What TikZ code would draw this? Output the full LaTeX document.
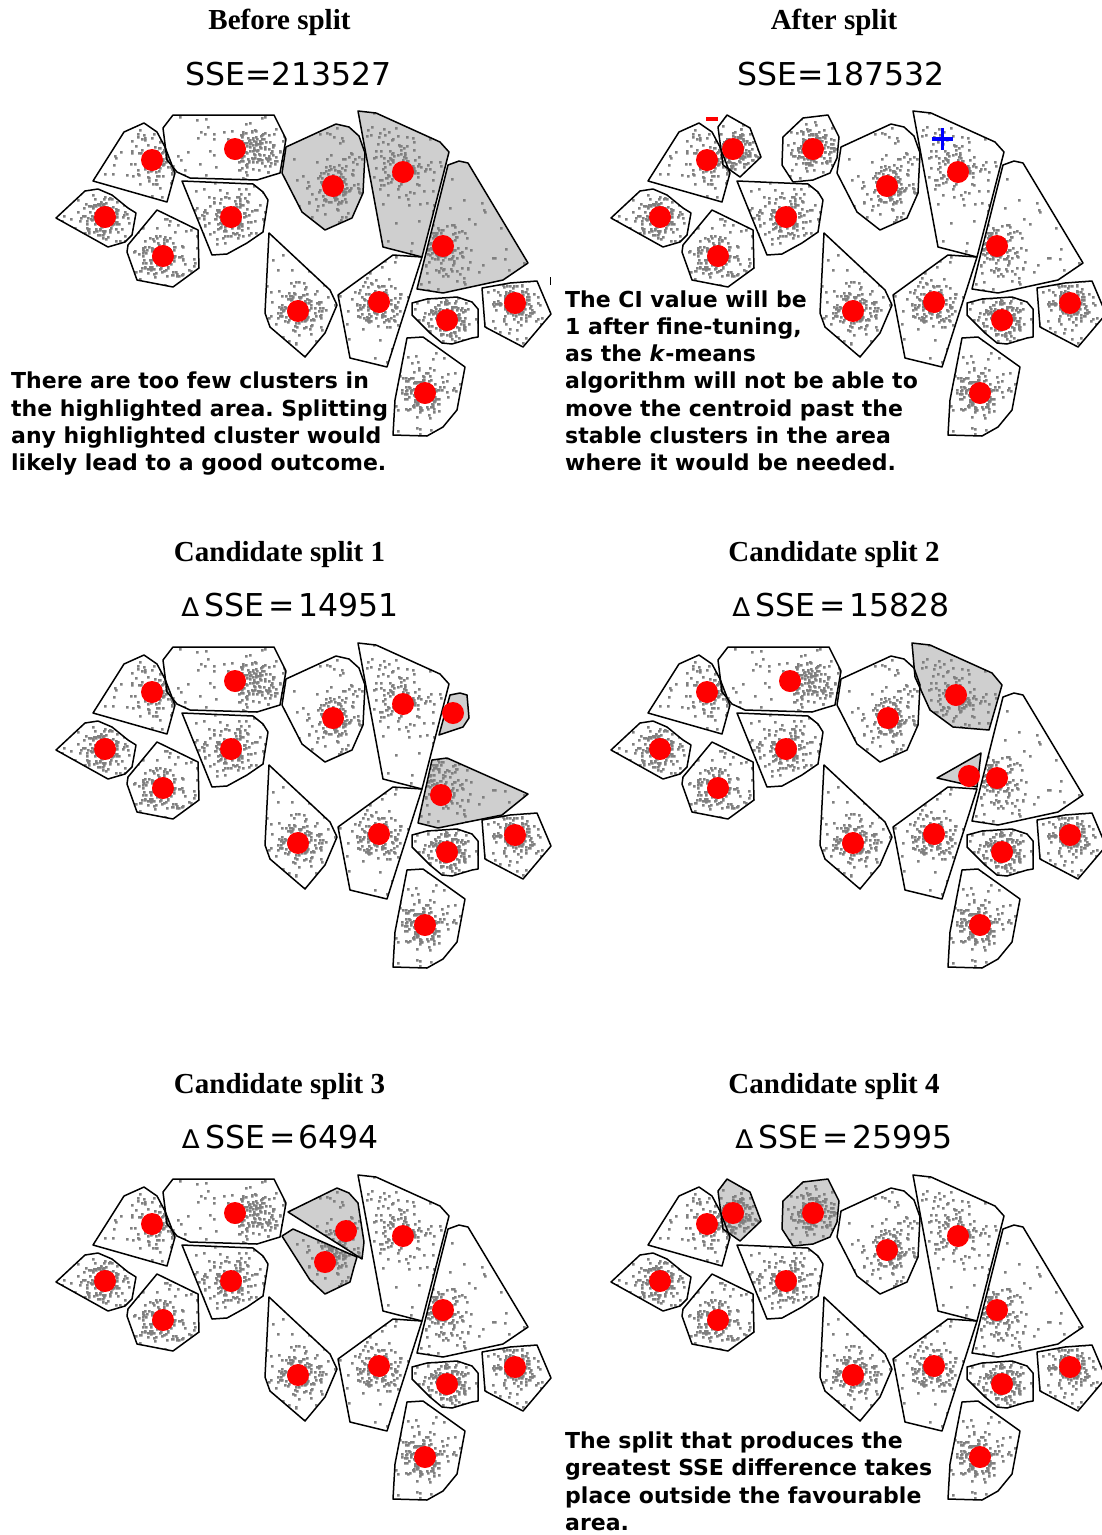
\documentclass[tikz,border=0pt]{standalone}
\usepackage{fontspec}
\setmainfont{Liberation Serif}
\newfontfamily\djv{DejaVu Sans}
\frenchspacing
\definecolor{hl}{RGB}{207,207,207}
\definecolor{ptc}{RGB}{128,128,128}
\definecolor{cred}{RGB}{255,0,0}
\definecolor{cblue}{RGB}{0,0,255}
\tikzset{
  hull/.style={draw=black, line width=1.5pt, line join=round},
  cen/.style={fill=cred},
  ttl/.style={font=\fontsize{29}{34}\selectfont\bfseries, anchor=base, inner sep=0pt},
  sse/.style={font=\djv\fontsize{31.5}{38}\selectfont, anchor=base, inner sep=0pt},
  note/.style={font=\djv\bfseries\fontsize{22}{27}\selectfont, anchor=base west, inner sep=0pt}
}
\newcommand\dsse[1]{{\fontsize{26}{30}\selectfont ∆}\hspace{6pt}SSE\hspace{4pt}=\hspace{3pt}#1}
% ---- polygons (panel-relative pixel coordinates) ----
\def\pA{(124,132)--(144,123)--(157,132)--(165,147)--(175,173)--(167,202)--(93,181)--cycle}
\def\pB{(173,115)--(274,115)--(286,139)--(280,173)--(270,176)--(257,180)--(190,178)--(177,172)--(167,160)--(163,128)--cycle}
\def\pC{(56,218)--(85,191)--(98,189)--(112,195)--(128,208)--(136,213)--(132,235)--(125,242)--(108,247)--cycle}
\def\pD{(157,210)--(198,230)--(199,268)--(173,287)--(137,280)--(127,252)--(128,245)--cycle}
\def\pE{(182,181)--(253,184)--(263,192)--(268,200)--(263,232)--(247,243)--(227,254)--(212,255)--cycle}
\def\pK{(286,147)--(336,124)--(349,127)--(359,136)--(365,153)--(363,193)--(352,218)--(325,230)--(302,212)--(282,173)--cycle}
\def\pL{(358,111)--(376,113)--(440,142)--(449,152)--(422,257)--(383,247)--cycle}
\def\pM{(448,165)--(459,161)--(468,163)--(528,263)--(503,280)--(443,293)--(417,289)--cycle}
\def\pF{(269,233)--(330,290)--(337,305)--(325,333)--(305,357)--(270,327)--(265,313)--cycle}
\def\pG{(393,255)--(422,257)--(387,367)--(350,358)--(338,295)--cycle}
\def\pH{(412,303)--(427,299)--(457,297)--(472,302)--(478,309)--(478,337)--(472,338)--(452,344)--(442,343)--(430,333)--(412,315)--cycle}
\def\pI{(482,288)--(510,283)--(537,281)--(551,314)--(523,347)--(485,327)--cycle}
\def\pJ{(407,338)--(423,337)--(465,367)--(457,410)--(443,427)--(427,436)--(393,435)--(395,400)--cycle}
\def\pN{(163,127)--(172,115)--(195,128)--(206,157)--(185,177)--(168,165)--cycle}
\def\pBp{(228,137)--(248,118)--(273,115)--(284,137)--(282,158)--(275,173)--(258,180)--(238,182)--(227,165)--cycle}
\def\pMa{(439,203)--(450,163)--(460,161)--(467,163)--(469,186)--(463,195)--cycle}
\def\pMb{(432,228)--(447,226)--(528,262)--(502,283)--(438,296)--(418,291)--cycle}
\def\pLa{(357,111)--(375,113)--(437,141)--(447,153)--(434,198)--(398,195)--(375,178)--(360,145)--cycle}
\def\pLb{(382,246)--(426,221)--(422,255)--cycle}
\def\pKa{(288,148)--(337,124)--(349,129)--(358,139)--(364,178)--(362,195)--cycle}
\def\pKb{(282,172)--(293,165)--(357,193)--(354,203)--(350,218)--(325,230)--(310,216)--cycle}
% ---- point clouds: small filled squares at whole-pixel positions ----
\newcommand\pts[9]{%
  \begin{scope}
    \clip #2;
    \pgfmathsetseed{#1}%
    \fill[ptc] foreach \k in {1,...,125}{({round(#3+#5*(rand+rand+rand))},{round(#4+#5*(rand+rand+rand))}) rectangle ++(2.5,2.5)};
    \fill[ptc] foreach \k in {1,...,45}{({round(#6+(#8-#6)*rnd)},{round(#7+(#9-#7)*rnd)}) rectangle ++(2.5,2.5)};
  \end{scope}}
\newcommand\ptsCommon{%
  \pts{101}{\pA}{158}{157}{12}{93}{123}{175}{202}%
  \pts{103}{\pC}{104}{216}{11}{56}{189}{136}{247}%
  \pts{104}{\pD}{162}{255}{12}{127}{210}{199}{287}%
  \pts{105}{\pE}{230}{216}{13}{182}{181}{268}{255}%
  \pts{109}{\pF}{297}{310}{12}{265}{233}{337}{357}%
  \pts{110}{\pG}{378}{301}{12}{338}{255}{422}{367}%
  \pts{111}{\pH}{446}{319}{10}{412}{297}{478}{344}%
  \pts{112}{\pI}{514}{302}{10}{482}{281}{551}{347}%
  \pts{113}{\pJ}{424}{392}{12}{393}{337}{465}{436}}
\newcommand\ptsK[1]{\pts{106}{#1}{332}{185}{13}{282}{124}{365}{230}}
\newcommand\ptsL[1]{\pts{107}{#1}{399}{164}{15}{358}{111}{449}{257}}
\newcommand\ptsM[1]{\pts{108}{#1}{439}{249}{14}{417}{161}{528}{293}}
\newcommand\ptsB{\pts{102}{\pB}{256}{147}{12}{163}{115}{286}{182}}
\newcommand\ptsNB{%
  \pts{114}{\pN}{179}{149}{10}{163}{115}{206}{177}%
  \pts{115}{\pBp}{257}{147}{10}{227}{115}{284}{182}}
\newcommand\hullCommon{%
  \draw[hull] \pA; \draw[hull] \pC; \draw[hull] \pD; \draw[hull] \pE;
  \draw[hull] \pF; \draw[hull] \pG; \draw[hull] \pH; \draw[hull] \pI; \draw[hull] \pJ;}
\newcommand\cenCommon{%
  \foreach \cx/\cy in {152/160,105/217,163/256,231/217,298/311,379/302,447/320,515/303,425/393}
    {\fill[cen] (\cx,\cy) circle[radius=11];}}
\begin{document}
\begin{tikzpicture}[x=1pt,y=-1pt]
\useasboundingbox (0,0) rectangle (1102,1535);
% ================= Panel 1: Before split =================
\begin{scope}
  \fill[hl] \pK; \fill[hl] \pL; \fill[hl] \pM;
  \ptsCommon \ptsB \ptsK{\pK} \ptsL{\pL} \ptsM{\pM}
  \hullCommon \draw[hull] \pB; \draw[hull] \pK; \draw[hull] \pL; \draw[hull] \pM;
  \cenCommon
  \foreach \cx/\cy in {235/149,333/186,403/172,443/246} {\fill[cen] (\cx,\cy) circle[radius=11];}
  \draw[line width=0.8pt] (550.5,277) -- (550.5,285);
  \node[ttl] (t1) at (279.5,29.5) {Before split};
  \node[sse] (s1) at (288.5,85) {SSE=213527};
  \node[note] (n1a) at (11,388.8) {There are too few clusters in};
  \node[note] (n1b) at (11,416.1) {the highlighted area. Splitting};
  \node[note] (n1c) at (11,443.4) {any highlighted cluster would};
  \node[note] (n1d) at (11,470.7) {likely lead to a good outcome.};
\end{scope}
% ================= Panel 2: After split =================
\begin{scope}[shift={(555,0)}]
  \ptsCommon \ptsNB \ptsK{\pK} \ptsL{\pL} \ptsM{\pM}
  \hullCommon \draw[hull] \pN; \draw[hull] \pBp; \draw[hull] \pK; \draw[hull] \pL; \draw[hull] \pM;
  \cenCommon
  \foreach \cx/\cy in {178/149,258/149,332/186,403/172,442/246} {\fill[cen] (\cx,\cy) circle[radius=11];}
  \fill[cred] (151,117.4) rectangle (163.3,120.7);
  \draw[cblue, line width=3.5pt] (376.7,139) -- (398.3,139) (387.5,128.3) -- (387.5,149.5);
  \node[ttl] (t2) at (279,29.5) {After split};
  \node[sse] (s2) at (286,85) {SSE=187532};
  \node[note] (n2a) at (10,307.3) {The CI value will be};
  \node[note] (n2b) at (10,334.5) {1 after fine-tuning,};
  \node[note] (n2c) at (10,361.7) {as the \textit{k}-means};
  \node[note] (n2d) at (10,388.9) {algorithm will not be able to};
  \node[note] (n2e) at (10,416.1) {move the centroid past the};
  \node[note] (n2f) at (10,443.3) {stable clusters in the area};
  \node[note] (n2g) at (10,470.5) {where it would be needed.};
\end{scope}
% ================= Panel 3: Candidate split 1 =================
\begin{scope}[shift={(0,532)}]
  \fill[hl] \pMa; \fill[hl] \pMb;
  \ptsCommon \ptsB \ptsK{\pK} \ptsL{\pL} \ptsM{\pMa \pMb}
  \hullCommon \draw[hull] \pB; \draw[hull] \pK; \draw[hull] \pL; \draw[hull] \pMa; \draw[hull] \pMb;
  \cenCommon
  \foreach \cx/\cy in {235/149,333/186,403/172,453/181,441/263} {\fill[cen] (\cx,\cy) circle[radius=11];}
  \node[ttl] (t3) at (279.5,29.5) {Candidate split 1};
  \node[sse] (s3) at (290,84) {\dsse{14951}};
\end{scope}
% ================= Panel 4: Candidate split 2 =================
\begin{scope}[shift={(555,532)}]
  \fill[hl] \pLa; \fill[hl] \pLb;
  \ptsCommon \ptsB \ptsK{\pK} \ptsL{\pLa \pLb} \ptsM{\pM}
  \hullCommon \draw[hull] \pB; \draw[hull] \pK; \draw[hull] \pLa; \draw[hull] \pLb; \draw[hull] \pM;
  \cenCommon
  \foreach \cx/\cy in {235/149,333/186,401/163,414/244,442/246} {\fill[cen] (\cx,\cy) circle[radius=11];}
  \node[ttl] (t4) at (279,29.5) {Candidate split 2};
  \node[sse] (s4) at (286,84) {\dsse{15828}};
\end{scope}
% ================= Panel 5: Candidate split 3 =================
\begin{scope}[shift={(0,1064)}]
  \fill[hl] \pKa; \fill[hl] \pKb;
  \ptsCommon \ptsB \ptsK{\pKa \pKb} \ptsL{\pL} \ptsM{\pM}
  \hullCommon \draw[hull] \pB; \draw[hull] \pKa; \draw[hull] \pKb; \draw[hull] \pL; \draw[hull] \pM;
  \cenCommon
  \foreach \cx/\cy in {235/149,346/167,325/198,403/172,443/246} {\fill[cen] (\cx,\cy) circle[radius=11];}
  \node[ttl] (t5) at (279.5,29.5) {Candidate split 3};
  \node[sse] (s5) at (280.5,84) {\dsse{6494}};
\end{scope}
% ================= Panel 6: Candidate split 4 =================
\begin{scope}[shift={(555,1064)}]
  \fill[hl] \pN; \fill[hl] \pBp;
  \ptsCommon \ptsNB \ptsK{\pK} \ptsL{\pL} \ptsM{\pM}
  \hullCommon \draw[hull] \pN; \draw[hull] \pBp; \draw[hull] \pK; \draw[hull] \pL; \draw[hull] \pM;
  \cenCommon
  \foreach \cx/\cy in {178/149,258/149,332/186,403/172,442/246} {\fill[cen] (\cx,\cy) circle[radius=11];}
  \node[ttl] (t6) at (279,29.5) {Candidate split 4};
  \node[sse] (s6) at (289,84) {\dsse{25995}};
  \node[note] (n6a) at (10,384.5) {The split that produces the};
  \node[note] (n6b) at (10,411.8) {greatest SSE difference takes};
  \node[note] (n6c) at (10,439.1) {place outside the favourable};
  \node[note] (n6d) at (10,466.4) {area.};
\end{scope}
\end{tikzpicture}
\end{document}
